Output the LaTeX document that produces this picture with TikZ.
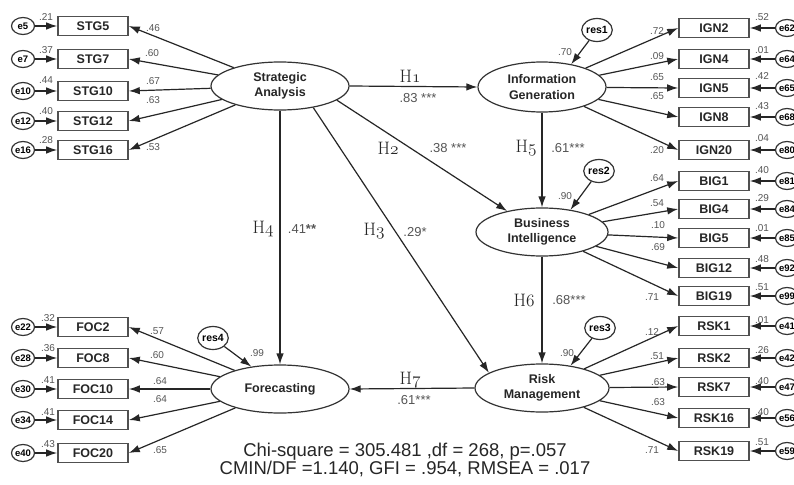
\documentclass[tikz,border=0pt]{standalone}
\usepackage{fontspec}
\newfontfamily\arial{Liberation Sans}
\usetikzlibrary{shapes.geometric,arrows.meta}
\definecolor{numc}{HTML}{555555}
\definecolor{boxc}{HTML}{505050}
\begin{document}
\begin{tikzpicture}[x=1pt,y=-1pt,
 ind/.style={draw=boxc, line width=1.6pt, minimum width=70pt, minimum height=19pt, inner sep=0pt, font=\arial\bfseries\fontsize{12.5}{14}\selectfont, text=black!85},
 lat/.style={ellipse, draw=black!80, line width=1.2pt, inner sep=0pt, font=\arial\bfseries\fontsize{12.5}{15.5}\selectfont, align=center, text=black!85},
 err/.style={ellipse, draw=black!80, line width=1.2pt, minimum width=23pt, minimum height=17pt, inner sep=0pt, font=\arial\bfseries\fontsize{9.5}{10}\selectfont},
 resc/.style={ellipse, draw=black!80, line width=1.2pt, minimum width=29pt, minimum height=23pt, inner sep=0pt, font=\arial\bfseries\fontsize{10.5}{12}\selectfont},
 arr/.style={draw=black!85, line width=1.2pt, -{Latex[length=11pt,width=7.5pt]}},
 num/.style={font=\arial\fontsize{10}{12}\selectfont, text=numc, inner sep=0pt},
 hyp/.style={font=\fontsize{18}{20}\selectfont, inner sep=0pt, text=black!85},
 coef/.style={font=\arial\fontsize{13}{15}\selectfont, text=numc, inner sep=0pt},
]
\clip (0,0) rectangle (794,484);
\fill[white] (0,0) rectangle (794,484);

% latent variables
\node[lat, minimum width=138pt, minimum height=48pt] (SA) at (280,86) {Strategic\\Analysis};
\node[lat, minimum width=128pt, minimum height=50pt] (IG) at (542,87) {Information\\Generation};
\node[lat, minimum width=132pt, minimum height=48pt] (BI) at (542,232) {Business\\Intelligence};
\node[lat, minimum width=134pt, minimum height=48pt] (RM) at (542,388) {Risk\\Management};
\node[lat, minimum width=138pt, minimum height=48pt] (FC) at (280,389) {Forecasting};

% residuals
\node[resc] (res1) at (597,30) {res1};
\node[resc] (res2) at (599,171) {res2};
\node[resc] (res3) at (600,328) {res3};
\node[resc] (res4) at (213,338) {res4};
\draw[arr] (res1) -- (IG.38);
\draw[arr] (res2) -- (BI.38);
\draw[arr] (res3) -- (RM.38);
\draw[arr] (res4) -- (FC.142);
\node[num] (r1) at (565,52) {.70};
\node[num] (r2) at (565,196) {.90};
\node[num] (r3) at (567,353) {.90};
\node[num] (r4) at (257,353) {.99};

% left indicators: STG
\foreach \nm/\y/\e in {STG5/26/e5, STG7/59/e7, STG10/91/e10, STG12/121/e12, STG16/150/e16}{
  \node[ind] (\nm) at (93,\y) {\nm};
  \node[err] (\e) at (23,\y) {\e};
  \draw[arr] (\e) -- (\nm);
  \draw[arr] (SA) -- (\nm.east);
}
% left indicators: FOC
\foreach \nm/\y/\e in {FOC2/327/e22, FOC8/358/e28, FOC10/389/e30, FOC14/420/e34, FOC20/453/e40}{
  \node[ind] (\nm) at (93,\y) {\nm};
  \node[err] (\e) at (23,\y) {\e};
  \draw[arr] (\e) -- (\nm);
  \draw[arr] (FC) -- (\nm.east);
}
% right indicators: IGN
\foreach \nm/\y/\e in {IGN2/28/e62, IGN4/59/e64, IGN5/88/e65, IGN8/117/e68, IGN20/150/e80}{
  \node[ind] (\nm) at (714,\y) {\nm};
  \node[err] (\e) at (787,\y) {\e};
  \draw[arr] (\e) -- (\nm);
  \draw[arr] (IG) -- (\nm.west);
}
% right indicators: BIG
\foreach \nm/\y/\e in {BIG1/181/e81, BIG4/209/e84, BIG5/238/e85, BIG12/268/e92, BIG19/296/e99}{
  \node[ind] (\nm) at (714,\y) {\nm};
  \node[err] (\e) at (787,\y) {\e};
  \draw[arr] (\e) -- (\nm);
  \draw[arr] (BI) -- (\nm.west);
}
% right indicators: RSK
\foreach \nm/\y/\e in {RSK1/326/e41, RSK2/358/e42, RSK7/387/e47, RSK16/418/e56, RSK19/451/e59}{
  \node[ind] (\nm) at (714,\y) {\nm};
  \node[err] (\e) at (787,\y) {\e};
  \draw[arr] (\e) -- (\nm);
  \draw[arr] (RM) -- (\nm.west);
}

% loading and error values
\foreach \v/\x/\y [count=\i] in {.46/153/28, .60/152/53, .67/153/81, .63/153/100, .53/153/147,
  .21/46/17, .37/46/50, .44/46/80, .40/46/111, .28/46/140,
  .57/157/331, .60/157/355, .64/160/381, .64/160/399, .65/160/450,
  .32/48/318, .36/48/348, .41/48/380, .41/48/412, .43/48/444,
  .72/657/31, .09/657/56, .65/657/77, .65/657/96, .20/657/150,
  .52/762/17, .01/762/50, .42/762/76, .43/762/106, .04/762/138,
  .64/657/178, .54/657/203, .10/658/225, .69/658/247, .71/652/297,
  .40/762/170, .29/762/198, .01/762/228, .48/762/259, .51/762/287,
  .12/652/332, .51/657/356, .63/658/382, .63/658/402, .71/652/450,
  .01/762/320, .26/762/350, .40/762/381, .40/762/412, .51/762/442}{
  \node[num] (v\i) at (\x,\y) {\v};
}

% structural paths
\draw[arr] (SA.east) -- (IG.west);
\draw[arr] (SA.-14) -- (BI.149);
\draw[arr] (SA.-33) -- (RM.164);
\draw[arr] (SA.south) -- (FC.north);
\draw[arr] (IG.south) -- (BI.north);
\draw[arr] (BI.south) -- (RM.north);
\draw[arr] (RM.west) -- (FC.east);

\node[hyp] (h1) at (410,76) {H$\mathnormal{1}$};
\node[coef] (c1) at (418,98) {.83 ***};
\node[hyp] (h2) at (388,148) {H$\mathnormal{2}$};
\node[coef] (c2) at (448,148) {.38 ***};
\node[hyp] (h3) at (374,231) {H$\mathnormal{3}$};
\node[coef] (c3) at (415,232) {.29*};
\node[hyp] (h4) at (263,229) {H$\mathnormal{4}$};
\node[coef] (c4) at (302,229) {.41\textbf{**}};
\node[hyp] (h5) at (526,148) {H$\mathnormal{5}$};
\node[coef] (c5) at (568,148) {.61***};
\node[hyp] (h6) at (524,300) {H$\mathnormal{6}$};
\node[coef] (c6) at (569,300) {.68***};
\node[hyp] (h7) at (410,380) {H$\mathnormal{7}$};
\node[coef] (c7) at (414,400) {.61***};

\node[font=\arial\fontsize{18.5}{18.5}\selectfont, text=black!85, align=center] (fit) at (405,460)
  {Chi-square = 305.481 ,df = 268, p=.057\\CMIN/DF =1.140, GFI = .954, RMSEA = .017};
\end{tikzpicture}
\end{document}
